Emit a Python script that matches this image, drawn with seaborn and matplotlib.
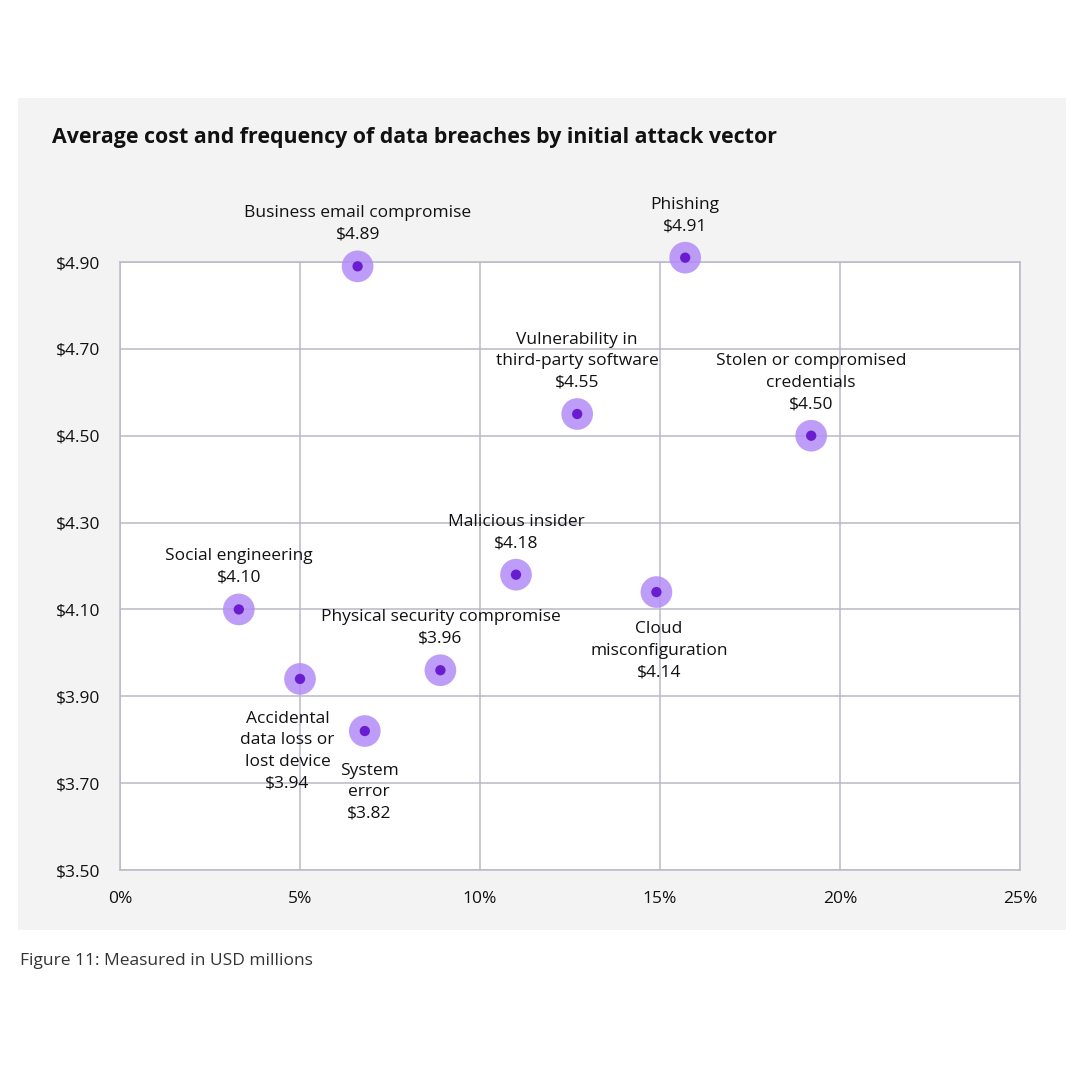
import numpy as np
import matplotlib.pyplot as plt
import pandas as pd
import seaborn as sns
from matplotlib.patches import Rectangle

# data
vectors = ["Business email compromise", "Phishing", "Vulnerability in third-party software",
           "Stolen or compromised credentials", "Malicious insider", "Social engineering",
           "Cloud misconfiguration", "Physical security compromise",
           "Accidental data loss or lost device", "System error"]
frequency = [6.6, 15.7, 12.7, 19.2, 11.0, 3.3, 14.9, 8.9, 5.0, 6.8]
cost = [4.89, 4.91, 4.55, 4.50, 4.18, 4.10, 4.14, 3.96, 3.94, 3.82]
label_text = ["Business email compromise", "Phishing", "Vulnerability in\nthird-party software",
              "Stolen or compromised\ncredentials", "Malicious insider", "Social engineering",
              "Cloud\nmisconfiguration", "Physical security compromise",
              "Accidental\ndata loss or\nlost device", "System\nerror"]
y_ticks = [3.5, 3.7, 3.9, 4.1, 4.3, 4.5, 4.7, 4.9]
x_ticks = [0, 5, 10, 15, 20, 25]

df = pd.DataFrame({"vector": vectors, "freq": frequency, "cost": cost, "label": label_text})

# label placement (offset in points), below = text under the marker
placement = {
    "Cloud misconfiguration": (2, -21),
    "Accidental data loss or lost device": (-9, -23),
    "System error": (3, -23),
}

sns.set_theme(style="white")
plt.rcParams["font.family"] = ["Open Sans", "DejaVu Sans"]

fig = plt.figure(figsize=(10.8, 10.8), dpi=100)
fig.patch.set_facecolor("white")
fig.patches.append(Rectangle((18 / 1080, 1 - 930 / 1080), 1048 / 1080, 832 / 1080,
                             transform=fig.transFigure, facecolor="#f3f3f3",
                             edgecolor="none", zorder=-10))

ax = fig.add_axes([120 / 1080, 1 - 870 / 1080, 900 / 1080, 608 / 1080])
ax.set_facecolor("white")

grid_c = "#b9b9c8"
sns.scatterplot(data=df, x="freq", y="cost", ax=ax, s=520, color="#b38cf7",
                edgecolor="none", alpha=0.85, clip_on=False, zorder=3, legend=False)
sns.scatterplot(data=df, x="freq", y="cost", ax=ax, s=55, color="#6a1ccf",
                edgecolor="none", clip_on=False, zorder=4, legend=False)

for _, r in df.iterrows():
    txt = r["label"] + "\n" + f"${r['cost']:.2f}"
    if r["vector"] in placement:
        dx, dy = placement[r["vector"]]
        va = "top"
    else:
        dx, dy = 0, 17
        va = "bottom"
    ax.annotate(txt, (r["freq"], r["cost"]), xytext=(dx, dy), textcoords="offset points",
                ha="center", va=va, fontsize=12.5, color="#111111", linespacing=1.45,
                zorder=5, annotation_clip=False)

ax.set_xlim(0, 25)
ax.set_ylim(3.5, 4.9)
ax.set_xticks(x_ticks)
ax.set_yticks(y_ticks)
ax.set_xticklabels([f"{t}%" for t in x_ticks])
ax.set_yticklabels([f"${t:.2f}" for t in y_ticks])
ax.tick_params(axis="both", length=0, labelsize=12.5, labelcolor="#111111")
ax.tick_params(axis="x", pad=15)
ax.tick_params(axis="y", pad=14)
ax.grid(True, color=grid_c, lw=1.1)
ax.set_axisbelow(True)
for s in ax.spines.values():
    s.set_color(grid_c)
    s.set_linewidth(1.1)
ax.set_xlabel("")
ax.set_ylabel("")

fig.text(52 / 1080, 1 - 138 / 1080, "Average cost and frequency of data breaches by initial attack vector",
         fontsize=15.4, fontweight="bold", color="#111111", va="center", ha="left")
fig.text(20 / 1080, 1 - 961 / 1080, "Figure 11: Measured in USD millions",
         fontsize=12.5, color="#333333", va="center", ha="left")

fig.savefig("out.png", dpi=100, facecolor="white")
